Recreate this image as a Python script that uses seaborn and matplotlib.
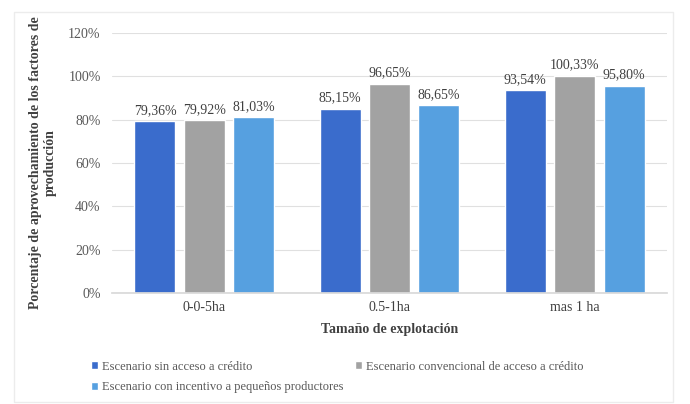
import matplotlib
matplotlib.use("Agg")
import matplotlib.pyplot as plt
import seaborn as sns
import pandas as pd
from matplotlib.patches import Rectangle

categories = ["0-0-5ha", "0.5-1ha", "mas 1 ha"]
series = ["Escenario sin acceso a crédito",
          "Escenario convencional de acceso a crédito",
          "Escenario con incentivo a pequeños productores"]
sin_credito = [79.36, 85.15, 93.54]
convencional = [79.92, 96.65, 100.33]
incentivo = [81.03, 86.65, 95.80]
colors = ["#3a6ccc", "#a2a2a2", "#56a0e0"]
yticks = [0, 20, 40, 60, 80, 100, 120]

rows = []
for s, vals in zip(series, [sin_credito, convencional, incentivo]):
    for c, v in zip(categories, vals):
        rows.append({"cat": c, "serie": s, "val": v})
df = pd.DataFrame(rows)

sns.set_theme(style="white")
plt.rcParams['font.family'] = ['Liberation Serif', 'DejaVu Serif']

fig = plt.figure(figsize=(6.9, 4.04), dpi=100)
ax = fig.add_axes([0.162, 0.275, 0.805, 0.643])
sns.barplot(data=df, x="cat", y="val", hue="serie", palette=colors,
            hue_order=series, order=categories, width=0.8, gap=0.17,
            ax=ax, legend=True, saturation=1)

ax.set_ylim(0, 120)
ax.set_yticks(yticks)
ax.set_yticklabels([f"{t}%" for t in yticks], fontsize=10, color="#595959")
ax.tick_params(axis="x", labelsize=10, colors="#404040", length=0, pad=6)
ax.tick_params(axis="y", length=0, pad=8)
ax.grid(axis="y", color="#e0e0e0", linewidth=0.8)
ax.set_axisbelow(True)
for sp in ["top", "right", "left"]:
    ax.spines[sp].set_visible(False)
ax.spines["bottom"].set_color("#d9d9d9")
ax.set_xlim(-0.5, 2.5)

ax.set_xlabel("Tamaño de explotación", fontsize=10, fontweight="bold", color="#404040", labelpad=6)
ax.set_ylabel("Porcentaje de aprovechamiento de los factores de\nproducción", fontsize=10,
              fontweight="bold", color="#404040", labelpad=8)

for cont in ax.containers:
    ax.bar_label(cont, labels=[f"{v:.2f}%".replace(".", ",") for v in cont.datavalues],
                 fontsize=10, color="#404040", padding=3)

handles, labels = ax.get_legend_handles_labels()
ax.get_legend().remove()
order = [0, 2, 1]
fig.legend([handles[i] for i in order], [labels[i] for i in order],
           loc="upper left", bbox_to_anchor=(0.115, 0.135), ncol=2, frameon=False,
           fontsize=9, handlelength=0.6, handleheight=0.6, handletextpad=0.3,
           columnspacing=0.9, labelspacing=0.7, labelcolor="#595959")

fig.patches.append(Rectangle((0.02, 0.005), 0.955, 0.965, transform=fig.transFigure,
                             fill=False, edgecolor="#ececec", linewidth=1))

fig.savefig("out.png", dpi=100)
